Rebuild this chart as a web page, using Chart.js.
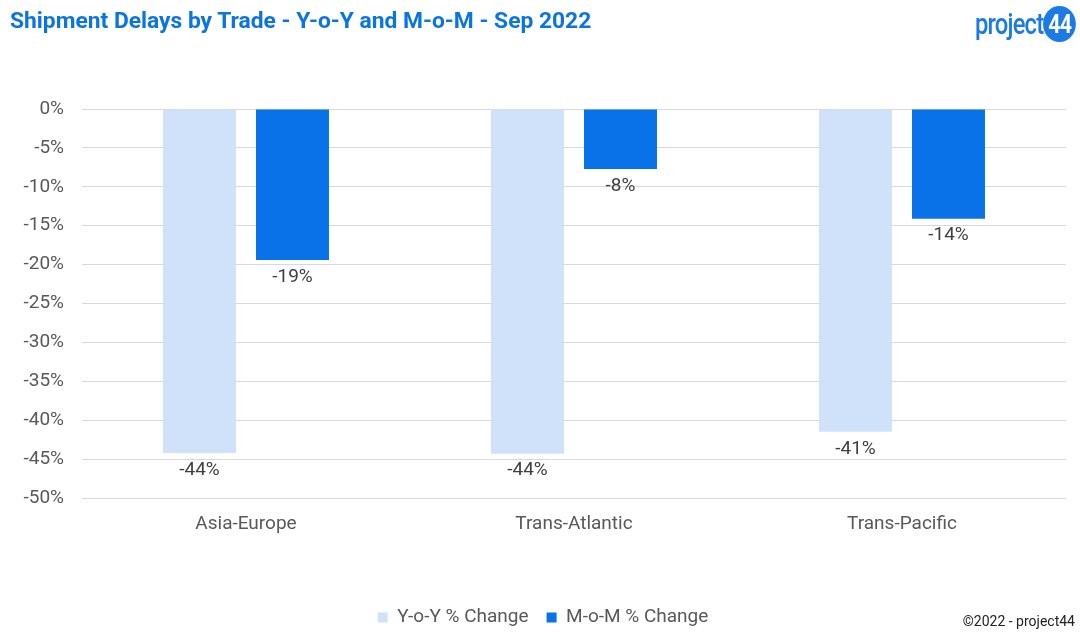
<!DOCTYPE html>
<html>
<head>
<meta charset="utf-8">
<script src="https://cdn.jsdelivr.net/npm/chart.js@4.4.0/dist/chart.umd.min.js"></script>
<style>
  html, body { margin: 0; padding: 0; background: #fff; }
  body { width: 1080px; height: 639px; position: relative; overflow: hidden; font-family: Roboto, sans-serif; }
  #title { position: absolute; left: 10px; top: 7px; font-size: 22.8px; font-weight: 700; color: #0b74e3; white-space: nowrap; }
  #logo { position: absolute; left: 975px; top: 6px; height: 36px; display: flex; align-items: center; color: #1a7be6; font-size: 29px; font-weight: 500; letter-spacing: -1px; transform: scaleX(0.82); transform-origin: left center; }
  #logo .badge { display: inline-block; width: 40px; height: 36px; border-radius: 50%; background: #1a7be6; color: #fff; text-align: center; line-height: 36px; font-size: 26px; font-weight: 700; letter-spacing: -1px; }
  #footer { position: absolute; right: 5px; top: 613px; font-size: 14px; color: #222; }
  #wrap { position: absolute; left: 0; top: 0; width: 1080px; height: 639px; }
</style>
</head>
<body>
<div id="wrap"><canvas id="chart"></canvas></div>
<div id="title">Shipment Delays by Trade - Y-o-Y and M-o-M - Sep 2022</div>
<div id="logo">project<span class="badge">44</span></div>
<div id="footer">©2022 - project44</div>
<script>
const categories = ['Asia-Europe', 'Trans-Atlantic', 'Trans-Pacific'];
const yoyChange = [-44.2, -44.3, -41.5];
const momChange = [-19.4, -7.7, -14.1];
const seriesNames = ['Y-o-Y % Change', 'M-o-M % Change'];

// labels printed under the end of each bar
const barLabels = {
  id: 'barLabels',
  afterDatasetsDraw(chart) {
    const ctx = chart.ctx;
    ctx.save();
    ctx.font = '19px Roboto';
    ctx.fillStyle = '#404040';
    ctx.textAlign = 'center';
    ctx.textBaseline = 'middle';
    chart.data.datasets.forEach((ds, i) => {
      chart.getDatasetMeta(i).data.forEach((bar, j) => {
        ctx.fillText(Math.round(ds.data[j]) + '%', bar.x, bar.y + 17);
      });
    });
    ctx.restore();
  }
};

// nudge the legend so it sits centred on the page, not on the padded box
const legendShift = {
  id: 'legendShift',
  afterLayout(chart) {
    chart.legend.left += 10;
    chart.legend.right += 10;
  }
};

new Chart(document.getElementById('chart').getContext('2d'), {
  type: 'bar',
  data: {
    labels: categories,
    datasets: [
      {
        label: seriesNames[0],
        data: yoyChange,
        backgroundColor: '#cfe2f9',
        categoryPercentage: 0.567,
        barPercentage: 0.785,
      },
      {
        label: seriesNames[1],
        data: momChange,
        backgroundColor: '#0a72e9',
        categoryPercentage: 0.567,
        barPercentage: 0.785,
      },
    ],
  },
  options: {
    responsive: true,
    maintainAspectRatio: false,
    animation: false,
    layout: { padding: { top: 109, right: 14, left: 0, bottom: 2 } },
    plugins: {
      legend: {
        position: 'bottom',
        labels: {
          color: '#595959',
          font: { family: 'Roboto', size: 19 },
          boxWidth: 10,
          boxHeight: 10,
          padding: 18,
        },
      },
      tooltip: { enabled: false },
    },
    scales: {
      x: {
        grid: { display: false },
        border: { display: false },
        ticks: { color: '#595959', font: { family: 'Roboto', size: 19 }, padding: 7 },
        afterFit(scale) { scale.height = 92; },
      },
      y: {
        min: -50,
        max: 0,
        ticks: {
          stepSize: 5,
          color: '#595959',
          font: { family: 'Roboto', size: 19 },
          padding: 18,
          callback: v => v + '%',
        },
        grid: { color: '#d9d9d9', drawTicks: false },
        border: { display: false },
        afterFit(scale) { scale.width = 82; },
      },
    },
  },
  plugins: [barLabels, legendShift],
});
</script>
</body>
</html>
